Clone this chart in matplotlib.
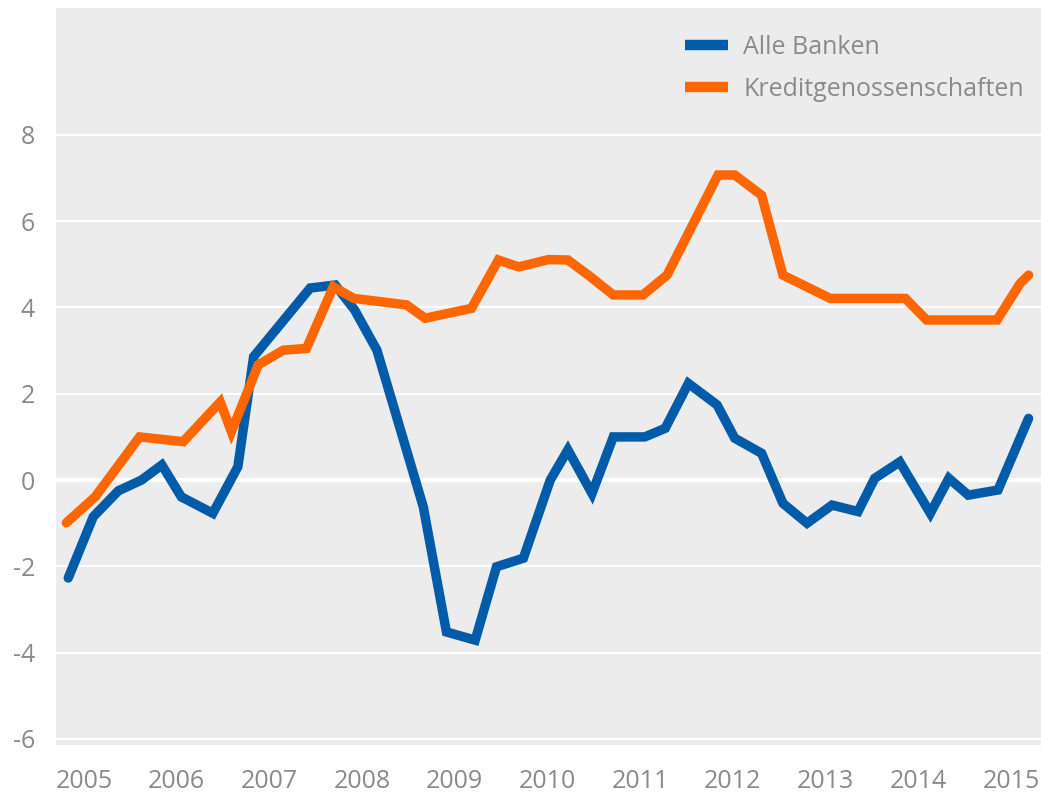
import matplotlib
matplotlib.use('Agg')
import matplotlib.pyplot as plt
import numpy as np

# Zeitpunkte (Dezimaljahre) und Werte
jahre_banken = [2004.83, 2005.10, 2005.37, 2005.62, 2005.84, 2006.05, 2006.39, 2006.66,
                2006.83, 2007.44, 2007.71, 2007.92, 2008.16, 2008.66, 2008.91, 2009.22,
                2009.45, 2009.74, 2010.03, 2010.22, 2010.48, 2010.71, 2011.05, 2011.27,
                2011.52, 2011.83, 2012.02, 2012.31, 2012.54, 2012.80, 2013.07, 2013.35,
                2013.53, 2013.80, 2014.13, 2014.33, 2014.54, 2014.86, 2015.19]
alle_banken = [-2.27, -0.85, -0.25, 0.0, 0.35, -0.39, -0.77, 0.31,
               2.86, 4.45, 4.52, 3.94, 3.01, -0.62, -3.52, -3.71,
               -2.01, -1.81, 0.0, 0.70, -0.31, 1.0, 1.0, 1.20,
               2.24, 1.74, 0.97, 0.62, -0.54, -1.00, -0.58, -0.73,
               0.04, 0.42, -0.77, 0.04, -0.35, -0.23, 1.43]

jahre_genossen = [2004.81, 2005.12, 2005.60, 2006.07, 2006.47, 2006.59, 2006.88, 2007.15,
                  2007.40, 2007.69, 2007.91, 2008.48, 2008.68, 2009.18, 2009.47, 2009.69,
                  2010.01, 2010.22, 2010.44, 2010.71, 2011.03, 2011.29, 2011.84, 2012.02,
                  2012.31, 2012.54, 2013.05, 2013.86, 2014.09, 2014.85, 2015.10, 2015.19]
kreditgenossen = [-0.99, -0.39, 1.0, 0.89, 1.81, 1.12, 2.67, 3.01,
                  3.05, 4.48, 4.21, 4.06, 3.75, 3.98, 5.10, 4.94,
                  5.11, 5.10, 4.75, 4.29, 4.29, 4.75, 7.07, 7.07,
                  6.60, 4.75, 4.21, 4.21, 3.71, 3.71, 4.56, 4.75]

jahr_ticks = list(range(2005, 2016))
y_ticks = [-6, -4, -2, 0, 2, 4, 6, 8]

BLAU = '#005ca9'
ORANGE = '#ff6600'
GRAU_TEXT = '#8a8a8a'
HINTERGRUND = '#ececec'

plt.rcParams['font.family'] = ['Open Sans', 'DejaVu Sans']

fig = plt.figure(figsize=(10.41, 7.94), dpi=100)
ax = fig.add_axes([56 / 1041, 49 / 794, 1 - 56 / 1041, (745 - 8) / 794])
ax.set_facecolor(HINTERGRUND)

# Gitterlinien
for y in y_ticks:
    ax.axhline(y, color='white', linewidth=3.0 if y == 0 else 1.4, zorder=1)

ax.plot(jahre_banken, alle_banken, color=BLAU, linewidth=6.8,
        solid_capstyle='round', solid_joinstyle='miter', label='Alle Banken', zorder=3)
ax.plot(jahre_genossen, kreditgenossen, color=ORANGE, linewidth=6.8,
        solid_capstyle='round', solid_joinstyle='miter', label='Kreditgenossenschaften', zorder=3)

ax.set_xlim(2004.698, 2015.324)
ax.set_ylim(-6.14, 10.94)
ax.set_xticks(jahr_ticks)
ax.set_xticklabels([str(j) for j in jahr_ticks])
ax.set_yticks(y_ticks)
ax.set_yticklabels([str(v) for v in y_ticks])
ax.tick_params(axis='both', length=0, labelsize=18, labelcolor=GRAU_TEXT)
ax.tick_params(axis='y', pad=15)
ax.tick_params(axis='x', pad=17)
for s in ax.spines.values():
    s.set_visible(False)

leg = fig.legend(loc='upper left', bbox_to_anchor=(685 / 1041, 1 - 35 / 794),
                 frameon=False, fontsize=18, handlelength=1.72, handletextpad=0.6,
                 labelspacing=0.68, borderpad=0, borderaxespad=0)
for t in leg.get_texts():
    t.set_color(GRAU_TEXT)
for h in leg.get_lines():
    h.set_linewidth(7.5)
    h.set_solid_capstyle('butt')

fig.savefig('out.png', dpi=100)
